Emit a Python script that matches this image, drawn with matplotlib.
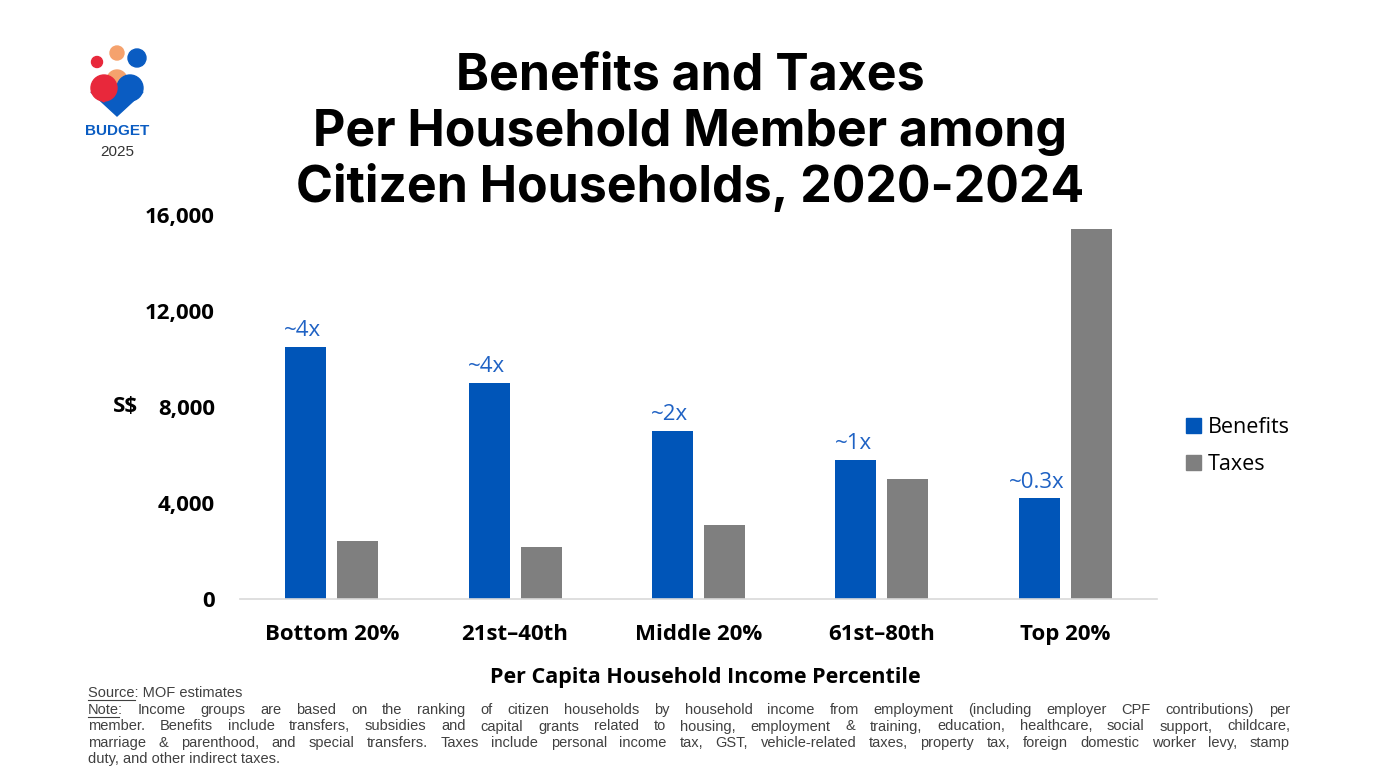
import matplotlib
matplotlib.use("Agg")
import matplotlib.pyplot as plt
import numpy as np
from matplotlib.patches import Circle, Polygon, Patch

# data
groups = ["Bottom 20%", "21st\u201340th", "Middle 20%", "61st\u201380th", "Top 20%"]
benefits = [10500, 9000, 7000, 5800, 4200]
taxes = [2400, 2150, 3100, 5000, 15400]
ratio_labels = ["~4x", "~4x", "~2x", "~1x", "~0.3x"]
yticks = [0, 4000, 8000, 12000, 16000]

blue = "#0055B8"
grey = "#7F7F7F"
label_blue = "#1F62C4"

plt.rcParams['font.family'] = ['Open Sans', 'DejaVu Sans']

W, H = 1379, 776
fig = plt.figure(figsize=(W / 100, H / 100), dpi=100)

# overlay in pixel coordinates for title, logo and notes
deco = fig.add_axes([0, 0, 1, 1], zorder=0)
deco.set_xlim(0, W)
deco.set_ylim(H, 0)
deco.axis("off")

ax = fig.add_axes([240 / W, 1 - 599 / H, (1157 - 240) / W, (599 - 215) / H], zorder=1)
ax.patch.set_alpha(0)

x = np.arange(len(groups))
bw = 0.224
off = 0.142
ax.bar(x - off, benefits, bw, color=blue, label="Benefits")
ax.bar(x + off, taxes, bw, color=grey, label="Taxes")

for xi, v, lab in zip(x, benefits, ratio_labels):
    ax.annotate(lab, (xi - off, v), xytext=(-2, 4), textcoords="offset points",
                ha="center", va="bottom", fontsize=16, color=label_blue)

ax.set_xlim(-0.5, len(groups) - 0.5)
ax.set_ylim(0, 16000)
ax.set_yticks(yticks)
ax.set_yticklabels([f"{v:,}" for v in yticks], fontsize=16, fontweight="bold")
ax.set_xticks(x)
ax.set_xticklabels(groups, fontsize=16, fontweight="bold")
ax.tick_params(axis="both", length=0)
ax.tick_params(axis="y", pad=18)
ax.tick_params(axis="x", pad=18)
for s in ["top", "right", "left"]:
    ax.spines[s].set_visible(False)
ax.spines["bottom"].set_color("#D9D9D9")
ax.spines["bottom"].set_linewidth(1.2)

ax.set_xlabel("Per Capita Household Income Percentile", fontsize=15.5,
              fontweight="bold")
ax.xaxis.set_label_coords((705 - 240) / (1157 - 240), -(677 - 599) / (599 - 215))
ax.xaxis.label.set_va("center")
deco.text(126, 407, "S$", fontsize=16, fontweight="bold", ha="center", va="center")

fig.legend(handles=[Patch(color=blue, label="Benefits"), Patch(color=grey, label="Taxes")],
           loc="center left", bbox_to_anchor=(1167 / W, 1 - 446 / H), frameon=False,
           fontsize=15.5, handlelength=0.7, handleheight=0.7, handletextpad=0.3,
           labelspacing=0.75)

# title
title_lines = ["Benefits and Taxes", "Per Household Member among",
               "Citizen Households, 2020-2024"]
for i, t in enumerate(title_lines):
    deco.text(690, 76 + i * 56, t, fontsize=36, fontweight="bold",
              ha="center", va="center", family=["Inter", "DejaVu Sans"])

# Budget 2025 logo (rough)
deco.add_patch(Circle((97, 62), 5.5, color="#E8283B"))
deco.add_patch(Circle((117, 53), 7, color="#F5A26D"))
deco.add_patch(Circle((137, 58), 9, color="#0A5CC2"))
deco.add_patch(Circle((117, 80), 10, color="#F5A26D"))
deco.add_patch(Circle((104, 88), 13, color="#E8283B", zorder=3))
deco.add_patch(Circle((130, 88), 13, color="#0A5CC2", zorder=2))
deco.add_patch(Polygon([(91, 92), (143, 92), (117, 116)], closed=True,
                       color="#0A5CC2", zorder=2))
deco.add_patch(Polygon([(91, 92), (108, 92), (104, 102)], closed=True,
                       color="#E8283B", zorder=3))
deco.text(117, 131, "BUDGET", fontsize=11, fontweight="bold", color="#0A5CC2",
          ha="center", va="center", family=["Liberation Sans", "DejaVu Sans"])
deco.text(117, 152, "2025", fontsize=11, color="#333333",
          ha="center", va="center", family=["Liberation Sans", "DejaVu Sans"])

# notes, justified between two margins
x_left, x_right = 88, 1290
note_lines = [
    "Note: Income groups are based on the ranking of citizen households by household income from employment (including employer CPF contributions) per",
    "member. Benefits include transfers, subsidies and capital grants related to housing, employment & training, education, healthcare, social support, childcare,",
    "marriage & parenthood, and special transfers. Taxes include personal income tax, GST, vehicle-related taxes, property tax, foreign domestic worker levy, stamp",
    "duty, and other indirect taxes.",
]
note_font = dict(fontsize=10.5, color="#404040",
                 family=["Liberation Sans Narrow", "Liberation Sans", "DejaVu Sans"])
fig.canvas.draw()
rend = fig.canvas.get_renderer()


def width_of(s):
    t = deco.text(0, 0, s, **note_font)
    w = t.get_window_extent(rend).width
    t.remove()
    return w


# shrink the note font until the longest line fits
while max(width_of(l) for l in note_lines) > (x_right - x_left) * 0.985:
    note_font["fontsize"] -= 0.1


def underline(x0, y, word):
    w = width_of(word)
    deco.plot([x0, x0 + w], [y + 7, y + 7], color="#404040", lw=0.8)


deco.text(x_left, 693, "Source: MOF estimates", va="center", **note_font)
underline(x_left, 693, "Source")

for i, line in enumerate(note_lines):
    y = 710 + i * 16.5
    if i == len(note_lines) - 1:
        deco.text(x_left, y, line, va="center", **note_font)
        continue
    words = line.split(" ")
    ws = [width_of(w) for w in words]
    gap = (x_right - x_left - sum(ws)) / (len(words) - 1)
    xp = x_left
    for w, wd in zip(words, ws):
        deco.text(xp, y, w, va="center", **note_font)
        xp += wd + gap
underline(x_left, 710, "Note")

fig.savefig("out.png", dpi=100)
